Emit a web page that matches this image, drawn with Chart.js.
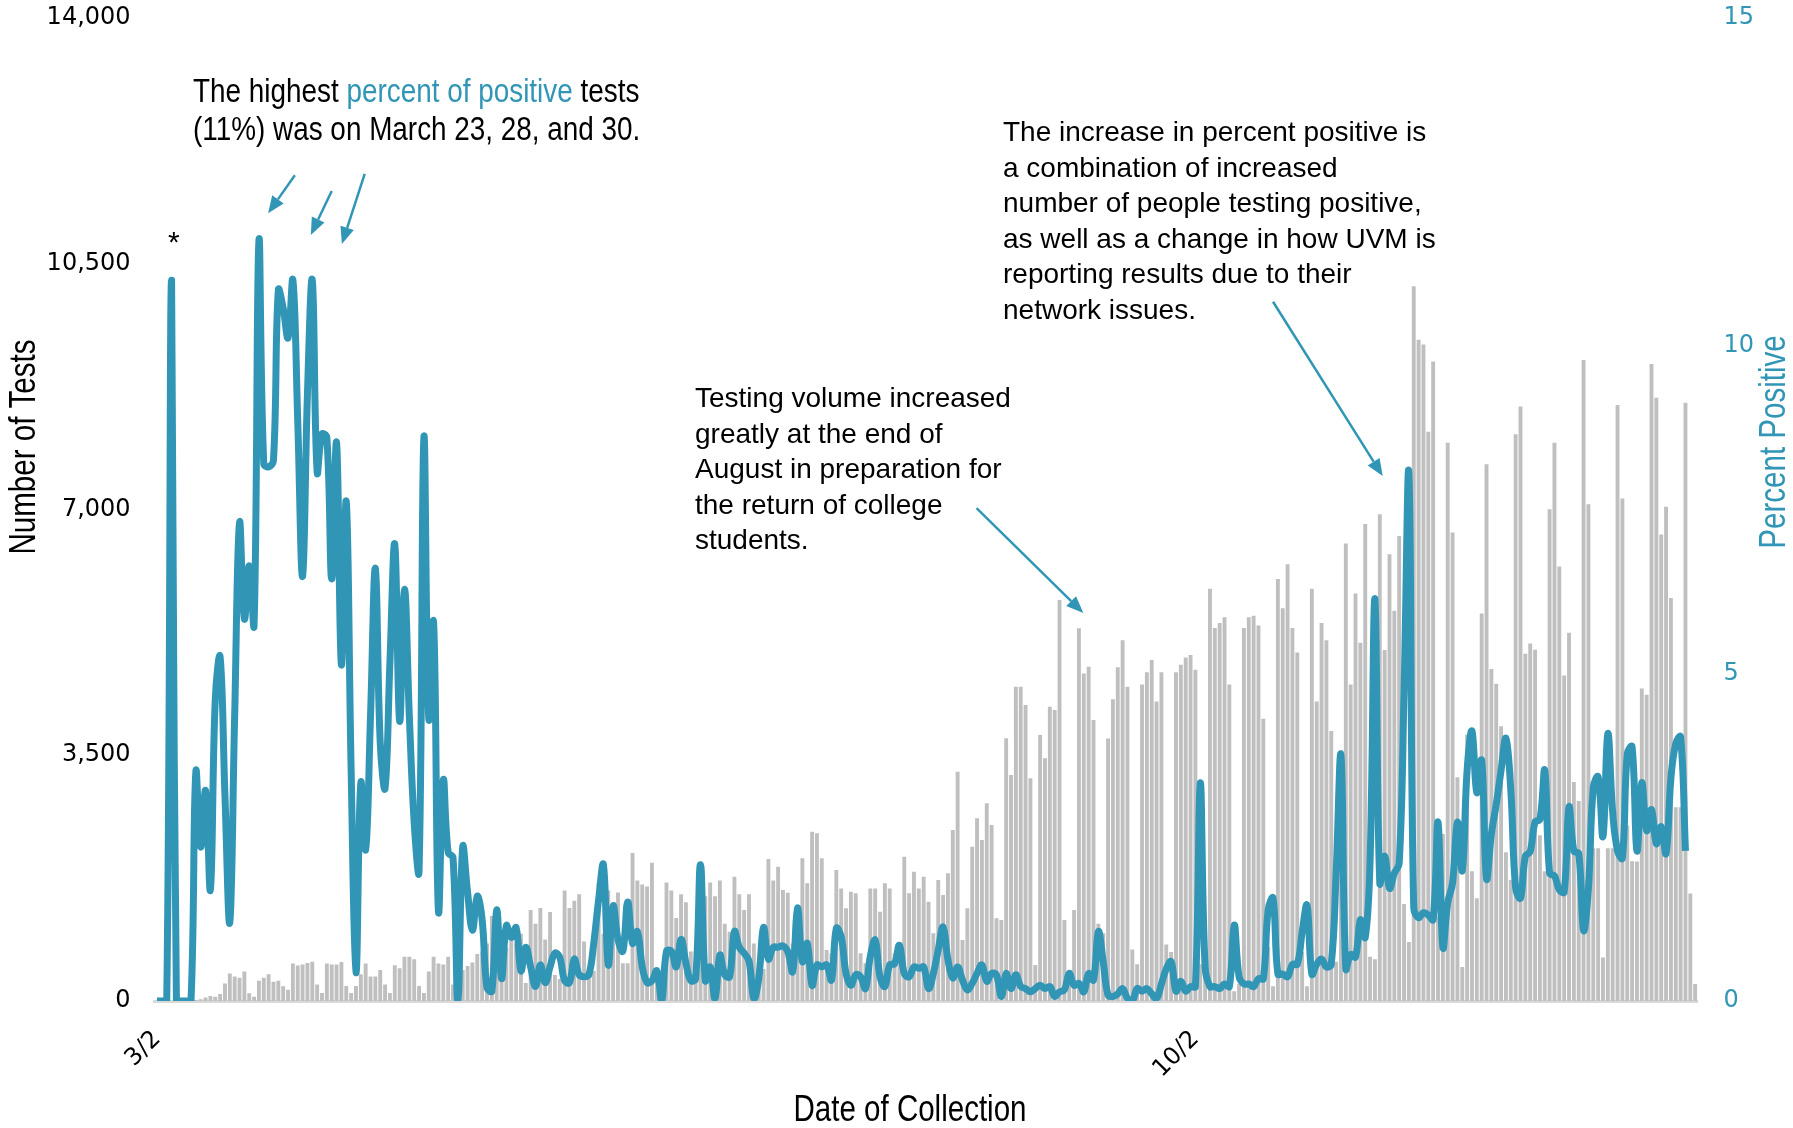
<!DOCTYPE html>
<html>
<head>
<meta charset="utf-8">
<title>Number of Tests and Percent Positive</title>
<script src="https://cdn.jsdelivr.net/npm/chart.js@4.4.1/dist/chart.umd.min.js"></script>
<style>
    html, body { margin: 0; padding: 0; background: #fff; }
    #wrap { position: relative; width: 1793px; height: 1128px; overflow: hidden; }
    #chart { display: block; }
    .note {
        position: absolute;
        font-family: "Liberation Sans", Arial, sans-serif;
        font-size: 28px;
        line-height: 35.5px;
        color: #000;
        white-space: nowrap;
    }
    .narrow {
        font-size: 34px;
        line-height: 37.7px;
        transform: scaleX(0.82);
        transform-origin: left top;
    }
    .teal { color: #3196b6; }
</style>
</head>
<body>
<div id="wrap">
    <canvas id="chart" width="1793" height="1128"></canvas>
    <div class="note narrow" style="left:193px; top:72px;">The highest <span class="teal">percent of positive</span> tests<br>(11%) was on March 23, 28, and 30.</div>
    <div class="note" style="left:695px; top:380px;">Testing volume increased<br>greatly at the end of<br>August in preparation for<br>the return of college<br>students.</div>
    <div class="note" style="left:1003px; top:114px;">The increase in percent positive is<br>a combination of increased<br>number of people testing positive,<br>as well as a change in how UVM is<br>reporting results due to their<br>network issues.</div>
    <div class="note" style="left:168px; top:227px; font-size:30px; line-height:30px;">*</div>
</div>
<script>
document.addEventListener("DOMContentLoaded", function () {
    const TEAL = "#3196b6";
    const GRAY = "#bfbfbf";

    // first day of collection is 3/2/2020, one category per day
    const startDate = [2020, 2, 2];
    const dayCount = 318;
    const shownDates = ["3/2", "10/2"];

    const testTicks = [0, 3500, 7000, 10500, 14000];
    const percentTicks = [0, 5, 10, 15];

    // Number of tests per day
    const testsPerDay = [
        0, 0, 0, 0, 0, 0, 0, 0, 15, 25,
        50, 70, 60, 100, 250, 390, 350, 330, 420, 110,
        60, 290, 330, 380, 275, 290, 210, 160, 535, 505,
        520, 540, 560, 235, 115, 535, 520, 520, 555, 215,
        115, 215, 380, 535, 350, 350, 440, 235, 115, 510,
        465, 630, 630, 595, 215, 115, 420, 630, 535, 520,
        630, 235, 210, 440, 500, 550, 670, 706, 818, 1211,
        1015, 454, 762, 930, 818, 959, 258, 1295, 1099, 1323,
        875, 1267, 370, 314, 1575, 1323, 1426, 1519, 846, 314,
        426, 1687, 959, 1575, 1407, 1547, 538, 538, 2108, 1715,
        1659, 1631, 1968, 370, 314, 1687, 1575, 1183, 1519, 1407,
        706, 706, 1491, 1491, 1687, 1491, 1715, 1099, 986, 1771,
        1519, 1295, 1519, 818, 538, 454, 2024, 1715, 1912, 1580,
        1540, 820, 800, 2032, 1676, 2411, 2388, 2032, 726, 679,
        1866, 1604, 1320, 1557, 1533, 679, 536, 1604, 1604, 1272,
        1676, 1604, 679, 655, 2055, 1533, 1842, 1604, 1771, 1415,
        964, 1723, 1510, 1818, 2435, 3266, 869, 1320, 2198, 2601,
        2293, 2815, 2506, 1177, 1154, 3741, 3218, 4476, 4476, 4215,
        3171, 513, 3788, 3456, 4192, 4144, 5711, 1154, 441, 1296,
        5307, 4666, 4761, 4002, 1100, 964, 3740, 4299, 4753, 5138,
        4474, 734, 524, 4509, 4683, 4858, 4264, 4683, 804, 699,
        4683, 4788, 4893, 4928, 4718, 524, 524, 5872, 5312, 5382,
        5466, 4509, 140, 245, 5312, 5466, 5487, 5347, 4019, 769,
        210, 6011, 5592, 6221, 5312, 4963, 699, 210, 5872, 4264,
        5382, 5138, 3845, 559, 3565, 6515, 4509, 5802, 5103, 6794,
        629, 594, 6934, 4998, 6361, 5557, 6624, 1380, 842, 10178,
        9419, 9350, 8108, 9108, 1200, 2380, 7949, 6672, 3188, 483,
        3795, 1849, 1463, 5520, 7645, 4727, 4520, 3912, 2118, 1725,
        8073, 8466, 4947, 5092, 5003, 2360, 1849, 7004, 7949, 6189,
        4637, 5244, 3119, 2850, 9129, 7073, 2174, 2174, 621, 2174,
        2174, 8487, 7155, 2500, 1990, 1987, 4450, 4361, 9074, 8590,
        6645, 7038, 5741, 2761, 2760, 8522, 1532, 241
    ];

    // Percent of tests that were positive
    const percentPositive = [
        0, 0, 0, 11.0, 0, 0, 0, 0, 3.5, 2.35,
        3.21, 1.7, 4.6, 5.25, 3.13, 1.2, 4.35, 7.3, 5.83, 6.64,
        5.74, 11.6, 8.2, 8.15, 8.25, 10.85, 10.57, 10.12, 11.0, 8.85,
        6.48, 9.26, 11.0, 8.07, 8.65, 8.6, 6.44, 8.52, 5.13, 7.62,
        3.54, 0.43, 3.33, 2.31, 4.35, 6.6, 3.94, 3.25, 5.17, 6.97,
        4.27, 6.28, 4.35, 2.72, 1.98, 8.6, 4.31, 5.78, 1.37, 3.37,
        2.27, 2.19, 0, 2.35, 1.66, 1.08, 1.6, 1.24, 0.2, 0.15,
        1.39, 0.34, 1.15, 0.97, 1.12, 0.46, 0.82, 0.52, 0.22, 0.55,
        0.28, 0.52, 0.73, 0.67, 0.31, 0.28, 0.64, 0.4, 0.37, 0.4,
        0.88, 1.54, 2.08, 0.55, 1.45, 0.94, 0.76, 1.51, 0.88, 1.06,
        0.52, 0.28, 0.31, 0.46, 0, 0.76, 0.76, 0.52, 0.94, 0.58,
        0.31, 0.34, 2.08, 0.31, 0.52, 0.04, 0.7, 0.4, 0.37, 1.06,
        0.82, 0.73, 0.61, 0.04, 0.34, 1.12, 0.64, 0.82, 0.82, 0.84,
        0.75, 0.45, 1.42, 0.6, 0.88, 0.24, 0.55, 0.52, 0.55, 0.32,
        1.11, 0.98, 0.42, 0.24, 0.4, 0.37, 0.19, 0.68, 0.93, 0.37,
        0.22, 0.55, 0.57, 0.85, 0.42, 0.37, 0.52, 0.5, 0.52, 0.19,
        0.42, 0.78, 1.13, 0.63, 0.35, 0.52, 0.32, 0.17, 0.27, 0.42,
        0.55, 0.3, 0.42, 0.4, 0.07, 0.42, 0.19, 0.4, 0.22, 0.19,
        0.14, 0.19, 0.24, 0.19, 0.22, 0.07, 0.14, 0.17, 0.42, 0.24,
        0.27, 0.14, 0.42, 0.32, 1.06, 0.6, 0.09, 0.07, 0.11, 0.19,
        0.04, 0, 0.19, 0.15, 0.19, 0.11, 0.04, 0.26, 0.49, 0.6,
        0.15, 0.3, 0.15, 0.22, 0.22, 3.33, 0.52, 0.22, 0.22, 0.19,
        0.26, 0.22, 1.16, 0.37, 0.26, 0.26, 0.22, 0.34, 0.34, 1.39,
        1.57, 0.41, 0.41, 0.37, 0.56, 0.56, 1.05, 1.46, 0.41, 0.56,
        0.64, 0.52, 0.56, 1.95, 3.75, 0.49, 0.71, 0.67, 1.24, 0.97,
        2.13, 6.14, 1.8, 2.21, 1.72, 1.95, 2.1, 4.72, 8.05, 1.42,
        1.27, 1.35, 1.31, 1.24, 2.73, 0.82, 1.5, 1.8, 2.73, 1.99,
        3.52, 4.12, 3.18, 3.67, 1.87, 2.55, 3.0, 3.52, 4.01, 3.22,
        1.72, 1.57, 2.21, 2.28, 2.73, 2.77, 3.52, 1.95, 1.91, 1.7,
        1.66, 2.96, 2.29, 2.25, 1.08, 1.72, 3.26, 3.42, 2.51, 4.08,
        2.88, 2.29, 2.18, 3.77, 3.88, 2.29, 3.33, 2.6, 2.92, 2.4,
        2.66, 2.25, 3.4, 3.93, 4.03, 2.29
    ];

    // arrows: [day index, percent] tail -> head
    const arrows = [
        { from: [28.4, 12.6], to: [22.9, 12.02] },
        { from: [36.0, 12.36], to: [31.7, 11.69] },
        { from: [42.8, 12.62], to: [38.1, 11.55] },
        { from: [168.9, 7.52], to: [190.9, 5.92] },
        { from: [230.0, 10.67], to: [252.6, 8.01] }
    ];

    // build day labels like "3/2"
    const dayLabels = [];
    for (let i = 0; i < dayCount; i++) {
        const d = new Date(Date.UTC(startDate[0], startDate[1], startDate[2] + i));
        dayLabels.push((d.getUTCMonth() + 1) + "/" + d.getUTCDate());
    }

    const tickFont = { family: "'DejaVu Sans', sans-serif", size: 24 };
    const titleFont = "36px 'Liberation Sans', Arial, sans-serif";

    // draws a condensed title: squeeze the text along its own direction
    function drawTitle(ctx, text, x, y, angle, color) {
        ctx.save();
        ctx.translate(x, y);
        ctx.rotate(angle);
        ctx.scale(0.82, 1);
        ctx.fillStyle = color;
        ctx.fillText(text, 0, 0);
        ctx.restore();
    }

    const extrasPlugin = {
        id: "extras",
        afterDraw(chart) {
            const { ctx, scales } = chart;
            const xs = scales.x;
            const ys = scales.y1;
            ctx.save();

            // annotation arrows
            ctx.strokeStyle = TEAL;
            ctx.fillStyle = TEAL;
            ctx.lineWidth = 2.5;
            arrows.forEach(a => {
                const x1 = xs.getPixelForValue(a.from[0]);
                const y1 = ys.getPixelForValue(a.from[1]);
                const x2 = xs.getPixelForValue(a.to[0]);
                const y2 = ys.getPixelForValue(a.to[1]);
                const ang = Math.atan2(y2 - y1, x2 - x1);
                const head = 17, half = 7;
                const bx = x2 - head * Math.cos(ang);
                const by = y2 - head * Math.sin(ang);
                ctx.beginPath();
                ctx.moveTo(x1, y1);
                ctx.lineTo(bx, by);
                ctx.stroke();
                ctx.beginPath();
                ctx.moveTo(x2, y2);
                ctx.lineTo(bx + half * Math.sin(ang), by - half * Math.cos(ang));
                ctx.lineTo(bx - half * Math.sin(ang), by + half * Math.cos(ang));
                ctx.closePath();
                ctx.fill();
            });

            // axis titles
            ctx.font = titleFont;
            ctx.textAlign = "center";
            ctx.textBaseline = "middle";
            drawTitle(ctx, "Number of Tests", 25, 447, -Math.PI / 2, "#000");
            drawTitle(ctx, "Percent Positive", 1775, 442, -Math.PI / 2, TEAL);
            drawTitle(ctx, "Date of Collection", 910, 1111, 0, "#000");

            ctx.restore();
        }
    };

    const ctx = document.getElementById("chart").getContext("2d");
    new Chart(ctx, {
        type: "bar",
        data: {
            labels: dayLabels,
            datasets: [
                {
                    type: "line",
                    label: "Percent Positive",
                    data: percentPositive,
                    yAxisID: "y1",
                    borderColor: TEAL,
                    borderWidth: 7,
                    pointRadius: 0,
                    tension: 0.4,
                    borderJoinStyle: "round",
                    fill: false,
                    order: 0
                },
                {
                    label: "Number of Tests",
                    data: testsPerDay,
                    yAxisID: "y",
                    backgroundColor: GRAY,
                    barPercentage: 0.8,
                    categoryPercentage: 1.0,
                    order: 1
                }
            ]
        },
        options: {
            responsive: false,
            devicePixelRatio: 1,
            animation: false,
            layout: { padding: { top: 18, left: 0, right: 0, bottom: 0 } },
            plugins: {
                legend: { display: false },
                tooltip: { enabled: false }
            },
            scales: {
                x: {
                    grid: { display: false, drawTicks: false },
                    border: { display: true, color: "#d9d9d9", width: 3 },
                    ticks: {
                        autoSkip: false,
                        maxRotation: 45,
                        minRotation: 45,
                        padding: 24,
                        color: "#000",
                        font: tickFont,
                        callback: function (value) {
                            const lab = this.getLabelForValue(value);
                            return shownDates.includes(lab) ? lab : null;
                        }
                    },
                    afterFit: scale => {
                        scale.height = 127;
                        scale.paddingLeft = 0;
                        scale.paddingRight = 0;
                    }
                },
                y: {
                    position: "left",
                    min: testTicks[0],
                    max: testTicks[testTicks.length - 1],
                    grid: { display: false, drawTicks: false },
                    border: { display: false },
                    afterBuildTicks: scale => { scale.ticks = testTicks.map(v => ({ value: v })); },
                    ticks: {
                        padding: 24,
                        color: "#000",
                        font: tickFont,
                        callback: v => v.toLocaleString("en-US")
                    },
                    afterFit: scale => {
                        scale.width = 154.6;
                        scale.paddingTop = 0;
                        scale.paddingBottom = 0;
                    }
                },
                y1: {
                    position: "right",
                    min: percentTicks[0],
                    max: percentTicks[percentTicks.length - 1],
                    grid: { display: false, drawTicks: false },
                    border: { display: false },
                    afterBuildTicks: scale => { scale.ticks = percentTicks.map(v => ({ value: v })); },
                    ticks: {
                        padding: 26,
                        color: TEAL,
                        font: tickFont
                    },
                    afterFit: scale => {
                        scale.width = 95.4;
                        scale.paddingTop = 0;
                        scale.paddingBottom = 0;
                    }
                }
            }
        },
        plugins: [extrasPlugin]
    });
});
</script>
</body>
</html>
